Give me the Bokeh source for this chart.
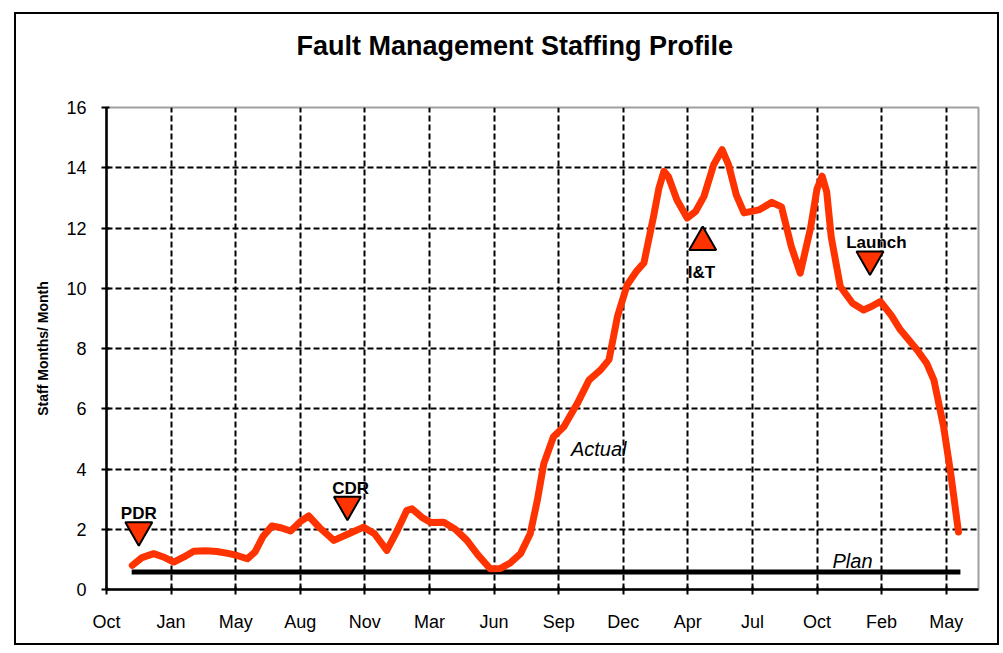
from bokeh.plotting import figure
from bokeh.models import FixedTicker, Label, Title
from bokeh.embed import file_html
from bokeh.resources import INLINE

# ---- data ----
tick_labels = ["Oct", "Jan", "May", "Aug", "Nov", "Mar", "Jun",
               "Sep", "Dec", "Apr", "Jul", "Oct", "Feb", "May"]

actual_x = [0.40, 0.55, 0.73, 0.88, 1.04, 1.20, 1.35, 1.53, 1.71, 1.88, 2.02, 2.18, 2.30, 2.42,
            2.56, 2.70, 2.85, 3.00, 3.13, 3.30, 3.52, 3.75, 3.98, 4.15, 4.34, 4.50,
            4.65, 4.73, 4.88, 5.02, 5.22, 5.40, 5.58, 5.75, 5.94, 6.10, 6.25, 6.41,
            6.56, 6.67, 6.77, 6.92, 7.08, 7.29, 7.47, 7.65, 7.78, 7.91, 8.06, 8.20, 8.32,
            8.47, 8.55, 8.63, 8.70, 8.83, 8.99, 9.12, 9.25, 9.40, 9.53, 9.63, 9.75, 9.87,
            10.10, 10.30, 10.45, 10.60, 10.74, 10.90, 11.00, 11.08, 11.15, 11.22, 11.36,
            11.55, 11.72, 11.85, 11.98, 12.15, 12.29, 12.55, 12.70, 12.81, 12.96, 13.07, 13.19]
actual_y = [0.80, 1.06, 1.19, 1.08, 0.91, 1.08, 1.27, 1.29, 1.26, 1.20, 1.13, 1.02, 1.25, 1.75,
            2.11, 2.05, 1.94, 2.25, 2.44, 2.05, 1.63, 1.85, 2.07, 1.85, 1.30, 1.95,
            2.63, 2.68, 2.40, 2.22, 2.23, 2.00, 1.63, 1.15, 0.69, 0.70, 0.88, 1.19,
            1.85, 2.96, 4.18, 5.07, 5.40, 6.18, 6.95, 7.29, 7.63, 9.06, 10.11, 10.55, 10.84,
            12.39, 13.30, 13.88, 13.70, 12.94, 12.33, 12.55, 13.05, 14.10, 14.60, 14.10, 13.10, 12.50,
            12.60, 12.85, 12.70, 11.40, 10.50, 12.00, 13.30, 13.72, 13.20, 11.70, 10.06,
            9.50, 9.28, 9.40, 9.56, 9.10, 8.62, 7.95, 7.50, 6.95, 5.40, 3.85, 1.91]

plan_x = [0.39, 13.22]
plan_y = [0.58, 0.58]

milestone_names = ["PDR", "CDR", "I&T", "Launch"]
milestone_x = [0.50, 3.73, 9.23, 11.82]
milestone_y = [1.97, 2.82, 11.53, 10.96]
milestone_marker = ["inverted_triangle", "inverted_triangle", "triangle", "inverted_triangle"]

RED = "#FF3300"
FONT = "Liberation Sans"

p = figure(width=985, height=633, x_range=(0, 13.5), y_range=(0, 16),
           output_backend="svg", toolbar_location=None,
           min_border_left=90, min_border_right=23, min_border_top=60, min_border_bottom=58)
p.styles = {"border": "2px solid black", "margin-left": "14px", "margin-top": "12px"}

# spacer between title and frame
p.add_layout(Title(text=" ", text_font_size="1px", standoff=29), "above")

p.title.text = "Fault Management Staffing Profile"
p.title.text_font = FONT
p.title.text_font_size = "27px"
p.title.text_font_style = "bold"
p.title.text_color = "black"
p.title.align = "left"
p.title.offset = 190
p.title.standoff = 29

p.outline_line_color = "#a0a0a0"
p.outline_line_width = 2

# axes
p.xaxis.ticker = FixedTicker(ticks=list(range(len(tick_labels))))
p.xaxis.major_label_overrides = {i: t for i, t in enumerate(tick_labels)}
p.yaxis.ticker = FixedTicker(ticks=list(range(0, 17, 2)))
for ax in (p.xaxis, p.yaxis):
    ax.axis_line_color = "black"
    ax.axis_line_width = 2.5
    ax.major_tick_line_color = "black"
    ax.major_tick_line_width = 2
    ax.major_tick_out = 5
    ax.major_tick_in = 3
    ax.minor_tick_line_color = None
    ax.major_label_text_font = FONT
    ax.major_label_text_font_size = "18px"
    ax.major_label_text_color = "black"
p.xaxis.major_label_standoff = 17
p.yaxis.major_label_standoff = 15
p.yaxis.axis_label = "Staff Months/ Month"
p.yaxis.axis_label_text_font = FONT
p.yaxis.axis_label_text_font_size = "14px"
p.yaxis.axis_label_text_font_style = "bold"
p.yaxis.axis_label_text_color = "black"
p.yaxis.axis_label_standoff = 12

# grid
p.xgrid.ticker = FixedTicker(ticks=list(range(1, len(tick_labels))))
p.ygrid.ticker = FixedTicker(ticks=list(range(2, 15, 2)))
for g in (p.xgrid, p.ygrid):
    g.grid_line_color = "black"
    g.grid_line_width = 2
    g.grid_line_dash = "6 3"
    g.grid_line_alpha = 1.0

# series
p.line(plan_x, plan_y, line_color="black", line_width=5)
p.line(actual_x, actual_y, line_color=RED, line_width=7, line_join="round", line_cap="round")

for nm, mx, my, mk in zip(milestone_names, milestone_x, milestone_y, milestone_marker):
    p.scatter([mx], [my], marker=mk, size=27, fill_color=RED, line_color="black", line_width=2)

# milestone labels
lab_pos = {"PDR": (0.50, 2.53), "CDR": (3.78, 3.36), "I&T": (9.21, 10.51), "Launch": (11.92, 11.51)}
for nm in milestone_names:
    lx, ly = lab_pos[nm]
    p.add_layout(Label(x=lx, y=ly, text=nm, text_font=FONT, text_font_size="17px",
                       text_font_style="bold", text_align="center", text_baseline="middle",
                       text_color="black"))

p.add_layout(Label(x=7.62, y=4.66, text="Actual", text_font=FONT, text_font_size="20px",
                   text_font_style="italic", text_align="center", text_baseline="middle",
                   text_color="black"))
p.add_layout(Label(x=11.55, y=0.96, text="Plan", text_font=FONT, text_font_size="20px",
                   text_font_style="italic", text_align="center", text_baseline="middle",
                   text_color="black"))

open("out.html", "w").write(file_html(p, INLINE))
